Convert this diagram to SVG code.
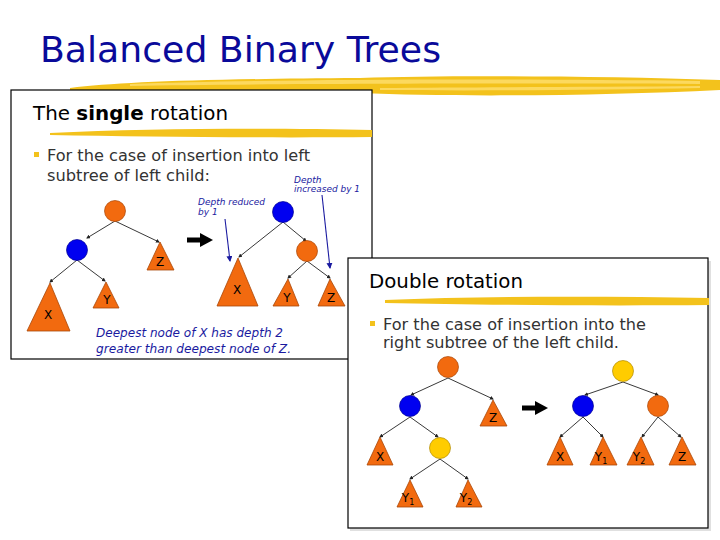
<svg xmlns="http://www.w3.org/2000/svg" width="720" height="540" viewBox="0 0 720 540">
<style>
.panel{fill:#fff;stroke:#000;stroke-width:1.2}
.edge{stroke:#222;stroke-width:0.9;fill:none}
.tri{fill:#F26A0F;stroke:#A84608;stroke-width:0.8}
.lbl{font-family:"DejaVu Sans",sans-serif;font-size:12px;fill:#000;text-anchor:middle}
.sub{font-size:8px}
.o{fill:#F26A0F;stroke:#A84608;stroke-width:0.7}
.b{fill:#0000F0;stroke:#000090;stroke-width:0.7}
.y{fill:#FFCC00;stroke:#B08A00;stroke-width:0.7}
.head{font-family:"DejaVu Sans",sans-serif;font-size:20px;fill:#000}
.body{font-family:"DejaVu Sans",sans-serif;font-size:15px;fill:#333}
.note{font-family:"DejaVu Sans",sans-serif;font-style:italic;font-size:9px;fill:#1a1aa0}
.cap{font-family:"DejaVu Sans",sans-serif;font-style:italic;font-size:12.5px;fill:#1a1aa0}
.brush{fill:#F3C21C}
.brush2{fill:#FFE27A;opacity:0.7}
.ann{stroke:#1a1aa0;stroke-width:1.1;fill:none}
.big{stroke:#000;stroke-width:5;fill:none}
</style>
<defs>
<marker id="ah" markerWidth="4" markerHeight="4" refX="3" refY="2" orient="auto" markerUnits="userSpaceOnUse">
<path d="M0,0 L4,2 L0,4 Z" fill="#222"/>
</marker>
<marker id="ab" markerWidth="6" markerHeight="6" refX="5" refY="3" orient="auto" markerUnits="userSpaceOnUse">
<path d="M0,0 L6,3 L0,6 Z" fill="#1a1aa0"/>
</marker>
<marker id="abig" markerWidth="14" markerHeight="14" refX="2" refY="7" orient="auto" markerUnits="userSpaceOnUse">
<path d="M0,0 L13,7 L0,14 Z" fill="#000"/>
</marker>
</defs>
<rect width="720" height="540" fill="#fff"/>
<g id="title">
<text x="40" y="62" font-family="DejaVu Sans,sans-serif" font-size="36" fill="#0A0A9A" textLength="401" lengthAdjust="spacingAndGlyphs">Balanced Binary Trees</text>
<path class="brush" d="M70,88 C120,82 200,79 360,78 C450,75 600,76 720,80 L720,90 C600,96 450,97 360,93 C250,92 150,92 70,90 Z"/>
<path class="brush2" d="M130,84 C250,80 450,78 700,81 L700,84 C450,83 250,84 130,86 Z"/>
<path class="brush2" d="M380,88 C480,87 600,87 700,86 L700,88 C600,90 480,91 380,90 Z"/>
</g>
<g id="panel1">
<rect class="panel" x="11" y="90" width="361" height="269"/>
<text class="head" x="33" y="120" textLength="195" lengthAdjust="spacingAndGlyphs">The <tspan font-weight="bold">single</tspan> rotation</text>
<path class="brush" d="M50,133 C150,128 280,128 372,130 L372,137 C280,138 150,137 50,135 Z"/>
<rect x="34" y="152" width="5" height="5" fill="#F3C21C"/>
<text class="body" x="47" y="161" textLength="263" lengthAdjust="spacingAndGlyphs">For the case of insertion into left</text>
<text class="body" x="47" y="181" textLength="163" lengthAdjust="spacingAndGlyphs">subtree of left child:</text>
<text class="note" x="294" y="183">Depth</text>
<text class="note" x="294" y="192" textLength="66" lengthAdjust="spacingAndGlyphs">increased by 1</text>
<text class="note" x="198" y="205" textLength="67" lengthAdjust="spacingAndGlyphs">Depth reduced</text>
<text class="note" x="198" y="215">by 1</text>
<text class="cap" x="96" y="337" textLength="187" lengthAdjust="spacingAndGlyphs">Deepest node of X has depth 2</text>
<text class="cap" x="96" y="353" textLength="195" lengthAdjust="spacingAndGlyphs">greater than deepest node of Z.</text>
</g>
<g id="connectors1">
<line class="edge" x1="115" y1="221" x2="87" y2="238" marker-end="url(#ah)"/>
<line class="edge" x1="115" y1="221" x2="159" y2="242" marker-end="url(#ah)"/>
<line class="edge" x1="77" y1="260" x2="50" y2="282" marker-end="url(#ah)"/>
<line class="edge" x1="77" y1="260" x2="105" y2="281" marker-end="url(#ah)"/>
<line class="edge" x1="283" y1="222" x2="239" y2="257" marker-end="url(#ah)"/>
<line class="edge" x1="283" y1="222" x2="306" y2="241" marker-end="url(#ah)"/>
<line class="edge" x1="307" y1="261" x2="288" y2="278" marker-end="url(#ah)"/>
<line class="edge" x1="307" y1="261" x2="330" y2="278" marker-end="url(#ah)"/>
<line class="ann" x1="225" y1="219" x2="230" y2="261" marker-end="url(#ab)"/>
<line class="ann" x1="322" y1="195" x2="330" y2="268" marker-end="url(#ab)"/>
<line class="big" x1="187" y1="240" x2="202" y2="240" marker-end="url(#abig)"/>
</g>
<g id="t1-root"><circle class="o" cx="115" cy="211" r="10.5"/></g>
<g id="t1-k1"><circle class="b" cx="77" cy="250" r="10.5"/></g>
<g id="t1-Z"><path class="tri" d="M160,242 L174,270 L147,270 Z"/><text class="lbl" x="160" y="266">Z</text></g>
<g id="t1-X"><path class="tri" d="M50,283 L70,331 L27,331 Z"/><text class="lbl" x="48" y="319">X</text></g>
<g id="t1-Y"><path class="tri" d="M106,282 L119,308 L93,308 Z"/><text class="lbl" x="107" y="304">Y</text></g>
<g id="t2-root"><circle class="b" cx="283" cy="212" r="10.5"/></g>
<g id="t2-k2"><circle class="o" cx="307" cy="251" r="10.5"/></g>
<g id="t2-X"><path class="tri" d="M238,258 L258,306 L217,306 Z"/><text class="lbl" x="237" y="294">X</text></g>
<g id="t2-Y"><path class="tri" d="M288,279 L299,306 L273,306 Z"/><text class="lbl" x="287" y="302">Y</text></g>
<g id="t2-Z"><path class="tri" d="M330,279 L345,306 L318,306 Z"/><text class="lbl" x="331" y="302">Z</text></g>
<g id="panel2">
<rect x="350" y="261" width="361" height="270" fill="#ccc" opacity="0.6"/>
<rect class="panel" x="348" y="258" width="360" height="270"/>
<text class="head" x="369" y="288" textLength="154" lengthAdjust="spacingAndGlyphs">Double rotation</text>
<path class="brush" d="M385,300 C480,296 600,296 709,298 L709,305 C600,306 480,305 385,303 Z"/>
<rect x="370" y="321" width="5" height="5" fill="#F3C21C"/>
<text class="body" x="383" y="330" textLength="263" lengthAdjust="spacingAndGlyphs">For the case of insertion into the</text>
<text class="body" x="383" y="348" textLength="236" lengthAdjust="spacingAndGlyphs">right subtree of the left child.</text>
</g>
<g id="connectors2">
<line class="edge" x1="448" y1="378" x2="411" y2="395" marker-end="url(#ah)"/>
<line class="edge" x1="448" y1="378" x2="493" y2="399" marker-end="url(#ah)"/>
<line class="edge" x1="410" y1="417" x2="380" y2="437" marker-end="url(#ah)"/>
<line class="edge" x1="410" y1="417" x2="438" y2="437" marker-end="url(#ah)"/>
<line class="edge" x1="440" y1="459" x2="410" y2="479" marker-end="url(#ah)"/>
<line class="edge" x1="440" y1="459" x2="468" y2="479" marker-end="url(#ah)"/>
<line class="edge" x1="623" y1="382" x2="585" y2="395" marker-end="url(#ah)"/>
<line class="edge" x1="623" y1="382" x2="658" y2="395" marker-end="url(#ah)"/>
<line class="edge" x1="583" y1="417" x2="560" y2="437" marker-end="url(#ah)"/>
<line class="edge" x1="583" y1="417" x2="603" y2="437" marker-end="url(#ah)"/>
<line class="edge" x1="658" y1="417" x2="642" y2="437" marker-end="url(#ah)"/>
<line class="edge" x1="658" y1="417" x2="681" y2="437" marker-end="url(#ah)"/>
<line class="big" x1="522" y1="408" x2="537" y2="408" marker-end="url(#abig)"/>
</g>
<g id="t3-root"><circle class="o" cx="448" cy="367" r="10.5"/></g>
<g id="t3-k1"><circle class="b" cx="410" cy="406" r="10.5"/></g>
<g id="t3-Z"><path class="tri" d="M493,400 L507,426 L480,426 Z"/><text class="lbl" x="493" y="422">Z</text></g>
<g id="t3-X"><path class="tri" d="M380,437 L393,465 L367,465 Z"/><text class="lbl" x="380" y="461">X</text></g>
<g id="t3-k2"><circle class="y" cx="440" cy="448" r="10.5"/></g>
<g id="t3-Y1"><path class="tri" d="M410,480 L423,507 L397,507 Z"/><text class="lbl" x="408" y="502">Y<tspan class="sub" dy="3">1</tspan></text></g>
<g id="t3-Y2"><path class="tri" d="M468,480 L482,507 L456,507 Z"/><text class="lbl" x="466" y="502">Y<tspan class="sub" dy="3">2</tspan></text></g>
<g id="t4-root"><circle class="y" cx="623" cy="371" r="10.5"/></g>
<g id="t4-k1"><circle class="b" cx="583" cy="406" r="10.5"/></g>
<g id="t4-k3"><circle class="o" cx="658" cy="406" r="10.5"/></g>
<g id="t4-X"><path class="tri" d="M560,437 L573,465 L547,465 Z"/><text class="lbl" x="560" y="461">X</text></g>
<g id="t4-Y1"><path class="tri" d="M603,437 L617,465 L590,465 Z"/><text class="lbl" x="601" y="461">Y<tspan class="sub" dy="3">1</tspan></text></g>
<g id="t4-Y2"><path class="tri" d="M641,437 L654,465 L627,465 Z"/><text class="lbl" x="639" y="461">Y<tspan class="sub" dy="3">2</tspan></text></g>
<g id="t4-Z"><path class="tri" d="M682,437 L696,465 L669,465 Z"/><text class="lbl" x="682" y="461">Z</text></g>
</svg>
